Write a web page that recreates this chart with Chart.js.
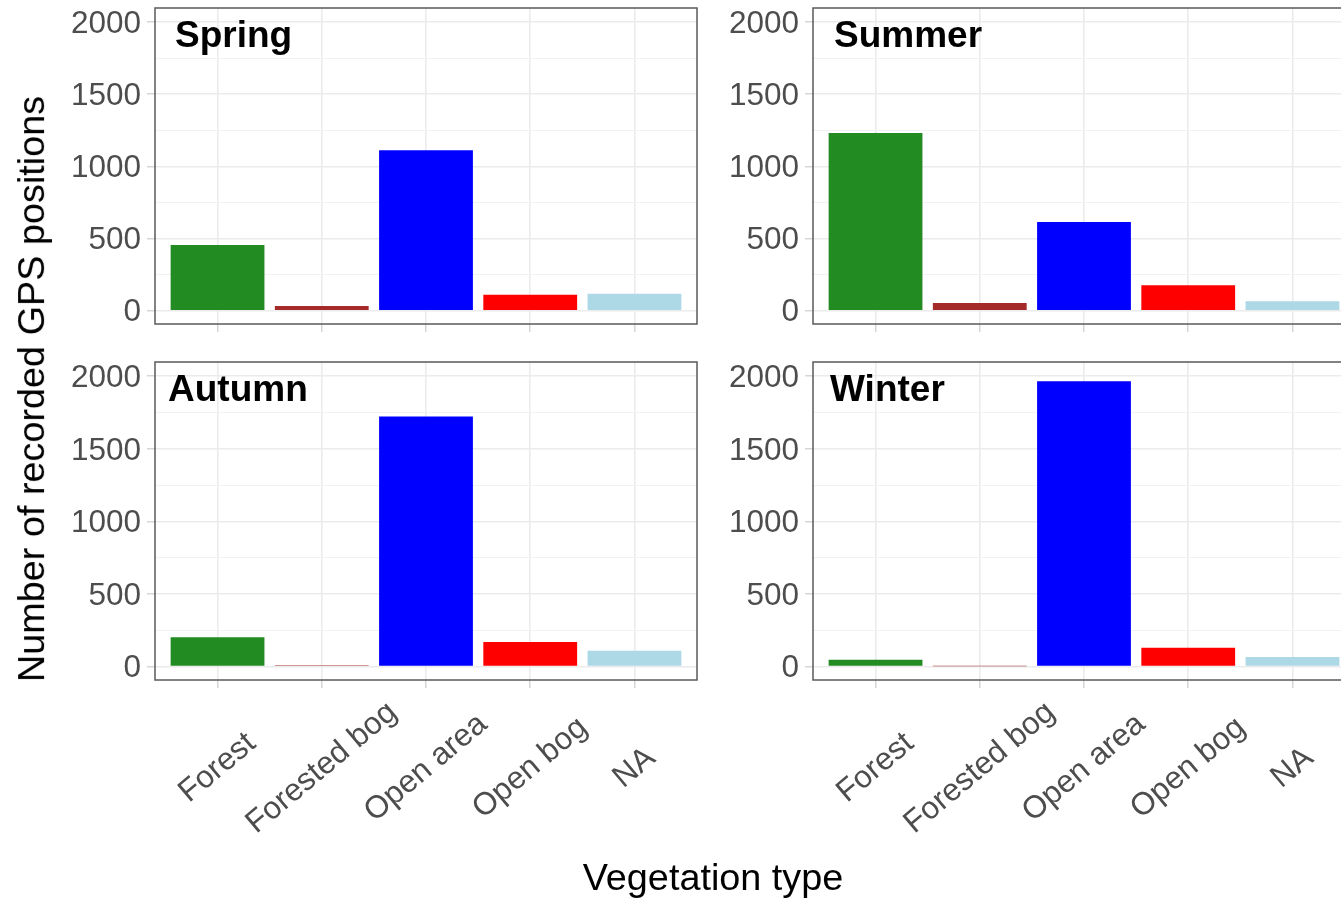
<!DOCTYPE html>
<html>
<head>
<meta charset="utf-8">
<title>GPS positions by vegetation type and season</title>
<script src="https://cdn.jsdelivr.net/npm/chart.js@4.4.1/dist/chart.umd.min.js"></script>
<style>
  html, body { margin: 0; padding: 0; background: #fff; overflow: hidden; width: 1341px; height: 900px; }
  #stage { position: relative; width: 1400px; height: 900px; }
  #stage canvas { position: absolute; left: 0; top: 0; pointer-events: none; }
  .axis-title {
    position: absolute; font-family: "Liberation Sans", Arial, sans-serif; font-size: 37.8px;
    color: #000; white-space: nowrap; line-height: 1;
  }
  #ytitle { left: 32px; top: 389px; transform: translate(-50%, -50%) rotate(-90deg); }
  #xtitle { left: 713px; top: 878px; transform: translate(-50%, -50%); }
</style>
</head>
<body>
<div id="stage">
  <canvas id="spring" width="1400" height="900"></canvas>
  <canvas id="summer" width="1400" height="900"></canvas>
  <canvas id="autumn" width="1400" height="900"></canvas>
  <canvas id="winter" width="1400" height="900"></canvas>
  <div class="axis-title" id="ytitle">Number of recorded GPS positions</div>
  <div class="axis-title" id="xtitle">Vegetation type</div>
</div>
<script>
// Vegetation categories and their fill colours
const vegetationTypes = ["Forest", "Forested bog", "Open area", "Open bog", "NA"];
const vegetationColors = ["#228B22", "#A52A2A", "#0000FF", "#FF0000", "#ADD8E6"];

// Seasons (facet titles)
const seasons = ["Spring", "Summer", "Autumn", "Winter"];

// Number of recorded GPS positions per vegetation type
const springCounts = [455, 32, 1113, 110, 118];
const summerCounts = [1231, 53, 615, 177, 65];
const autumnCounts = [202, 9, 1722, 170, 109];
const winterCounts = [48, 3, 1965, 130, 66];

// Shared y axis: major ticks every 500, minor gridlines in between
const yTickValues = [0, 250, 500, 750, 1000, 1250, 1500, 1750, 2000];

const FONT = '"Liberation Sans", Arial, sans-serif';
const CANVAS_W = 1400, CANVAS_H = 900;
const Y_AXIS_W = 120, X_AXIS_H = 10;

// Facet panels: plot-area rectangle on the page and title offset
const panels = [
  { id: "spring", title: seasons[0], values: springCounts, area: { left: 155, top: 8,   right: 697,  bottom: 324 }, titleDx: 20, showCategories: false },
  { id: "summer", title: seasons[1], values: summerCounts, area: { left: 813, top: 8,   right: 1355, bottom: 324 }, titleDx: 21, showCategories: false },
  { id: "autumn", title: seasons[2], values: autumnCounts, area: { left: 155, top: 362, right: 697,  bottom: 680 }, titleDx: 13, showCategories: true },
  { id: "winter", title: seasons[3], values: winterCounts, area: { left: 813, top: 362, right: 1355, bottom: 680 }, titleDx: 17, showCategories: true }
];

const isMajor = (c) => c.tick && c.tick.value % 500 === 0;

// Panel frame, facet title and angled category labels
const panelDecor = {
  id: "panelDecor",
  afterDraw(chart, args, opts) {
    const { ctx, chartArea: a } = chart;
    const x = chart.scales.x;
    ctx.save();
    ctx.strokeStyle = "#5a5a5a";
    ctx.lineWidth = 1.5;
    ctx.strokeRect(a.left, a.top, a.right - a.left, a.bottom - a.top);

    ctx.fillStyle = "#000";
    ctx.font = "bold 37px " + FONT;
    ctx.textAlign = "left";
    ctx.textBaseline = "alphabetic";
    ctx.fillText(opts.title, a.left + opts.titleDx, a.top + 39);

    if (opts.showCategories) {
      ctx.fillStyle = "#4d4d4d";
      ctx.font = "31.5px " + FONT;
      ctx.textAlign = "center";
      ctx.textBaseline = "middle";
      vegetationTypes.forEach((label, i) => {
        const px = x.getPixelForValue(i + 1);
        ctx.save();
        ctx.translate(px, a.bottom + 88);
        ctx.rotate(-40 * Math.PI / 180);
        ctx.fillText(label, 0, 0);
        ctx.restore();
      });
    }
    ctx.restore();
  }
};

function makeChart(p) {
  return new Chart(document.getElementById(p.id), {
    type: "bar",
    data: {
      datasets: [{
        data: p.values.map((v, i) => ({ x: i + 1, y: v })),
        backgroundColor: vegetationColors,
        borderWidth: 0,
        categoryPercentage: 1,
        barPercentage: 0.9
      }]
    },
    options: {
      responsive: false,
      animation: false,
      events: [],
      layout: {
        autoPadding: false,
        padding: {
          left: p.area.left - Y_AXIS_W,
          top: p.area.top,
          right: CANVAS_W - p.area.right,
          bottom: CANVAS_H - p.area.bottom - X_AXIS_H
        }
      },
      plugins: {
        legend: { display: false },
        tooltip: { enabled: false },
        panelDecor: { title: p.title, titleDx: p.titleDx, showCategories: p.showCategories }
      },
      scales: {
        x: {
          type: "linear",
          min: 0.4,
          max: 5.6,
          offset: false,
          afterBuildTicks: (s) => { s.ticks = vegetationTypes.map((_, i) => ({ value: i + 1 })); },
          afterFit: (s) => { s.height = X_AXIS_H; s.paddingLeft = 0; s.paddingRight = 0; },
          ticks: { display: false },
          grid: {
            offset: false,
            color: "#ebebeb",
            lineWidth: 1.6,
            drawTicks: true,
            tickLength: 8,
            tickColor: "#cccccc",
            tickWidth: 1.2
          },
          border: { display: false }
        },
        y: {
          min: -92,
          max: 2098,
          afterBuildTicks: (s) => { s.ticks = yTickValues.map((v) => ({ value: v })); },
          afterFit: (s) => { s.width = Y_AXIS_W; s.paddingTop = 0; s.paddingBottom = 0; },
          ticks: {
            autoSkip: false,
            padding: 6,
            labelOffset: 2,
            color: "#4d4d4d",
            font: { family: FONT, size: 31.5 },
            callback: (v) => (v % 500 === 0 ? String(v) : "")
          },
          grid: {
            color: (c) => (isMajor(c) ? "#ebebeb" : "#f2f2f2"),
            lineWidth: (c) => (isMajor(c) ? 1.6 : 1),
            drawTicks: true,
            tickLength: 8,
            tickColor: (c) => (isMajor(c) ? "#cccccc" : "rgba(0,0,0,0)"),
            tickWidth: 1.2
          },
          border: { display: false }
        }
      }
    },
    plugins: [panelDecor]
  });
}

panels.forEach(makeChart);
</script>
</body>
</html>
